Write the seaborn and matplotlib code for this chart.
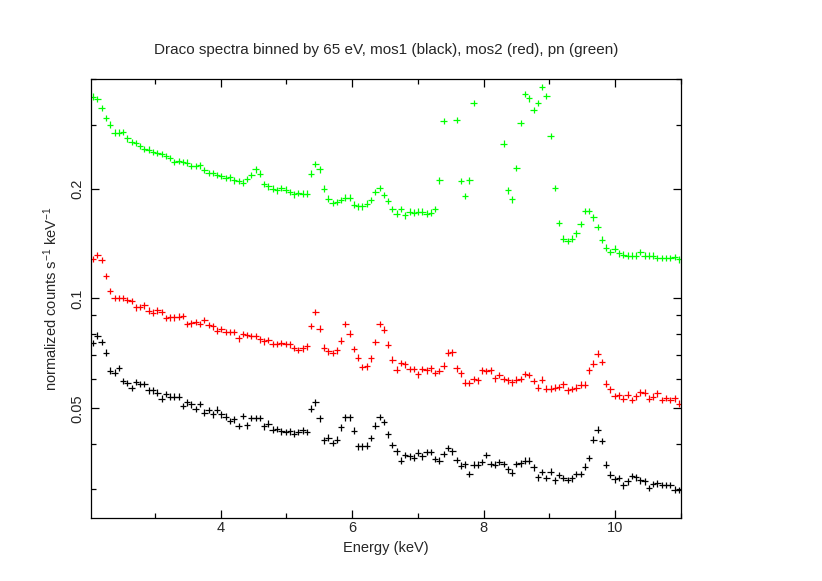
import numpy as np
import pandas as pd
import matplotlib
matplotlib.use("Agg")
import matplotlib.pyplot as plt
import seaborn as sns
from matplotlib.ticker import FixedLocator, NullFormatter, FixedFormatter

# 65 eV bins from 2.03 to 11.0 keV (bin centres)
energy = np.round(2.0625 + 0.065 * np.arange(138), 4)

# mos1 (black)
mos1 = [0.0755, 0.0791, 0.0760, 0.0711, 0.0634, 0.0626, 0.0645, 0.0594, 0.0586, 0.0568,
        0.0590, 0.0582, 0.0582, 0.0560, 0.0560, 0.0552, 0.0531, 0.0547, 0.0538, 0.0538,
        0.0538, 0.0507, 0.0519, 0.0512, 0.0497, 0.0513, 0.0486, 0.0495, 0.0481, 0.0496,
        0.0481, 0.0474, 0.0461, 0.0466, 0.0447, 0.0476, 0.0449, 0.0470, 0.0470, 0.0470,
        0.0446, 0.0454, 0.0437, 0.0438, 0.0432, 0.0430, 0.0432, 0.0426, 0.0431, 0.0435,
        0.0430, 0.0499, 0.0519, 0.0469, 0.0408, 0.0415, 0.0402, 0.0410, 0.0443, 0.0472,
        0.0472, 0.0434, 0.0393, 0.0393, 0.0395, 0.0414, 0.0448, 0.0473, 0.0459, 0.0424,
        0.0396, 0.0381, 0.0359, 0.0372, 0.0369, 0.0366, 0.0378, 0.0369, 0.0379, 0.0379,
        0.0363, 0.0359, 0.0375, 0.0389, 0.0381, 0.0361, 0.0348, 0.0351, 0.0330, 0.0350,
        0.0350, 0.0356, 0.0372, 0.0352, 0.0350, 0.0356, 0.0352, 0.0340, 0.0333, 0.0352,
        0.0353, 0.0359, 0.0359, 0.0344, 0.0323, 0.0334, 0.0322, 0.0335, 0.0317, 0.0328,
        0.0322, 0.0318, 0.0321, 0.0330, 0.0330, 0.0346, 0.0365, 0.0410, 0.0437, 0.0406,
        0.0350, 0.0329, 0.0319, 0.0322, 0.0307, 0.0315, 0.0326, 0.0323, 0.0317, 0.0315,
        0.0302, 0.0310, 0.0311, 0.0308, 0.0308, 0.0308, 0.0299, 0.0298]

# mos2 (red)
mos2 = [0.1282, 0.1315, 0.1274, 0.1154, 0.1049, 0.1004, 0.1002, 0.1004, 0.0991, 0.0983,
        0.0946, 0.0948, 0.0958, 0.0927, 0.0915, 0.0928, 0.0917, 0.0884, 0.0887, 0.0887,
        0.0892, 0.0894, 0.0852, 0.0855, 0.0861, 0.0852, 0.0873, 0.0846, 0.0839, 0.0817,
        0.0825, 0.0810, 0.0810, 0.0810, 0.0778, 0.0798, 0.0794, 0.0789, 0.0789, 0.0773,
        0.0763, 0.0770, 0.0750, 0.0750, 0.0755, 0.0750, 0.0749, 0.0732, 0.0722, 0.0730,
        0.0739, 0.0841, 0.0917, 0.0827, 0.0733, 0.0716, 0.0709, 0.0721, 0.0767, 0.0852,
        0.0801, 0.0727, 0.0688, 0.0649, 0.0651, 0.0685, 0.0760, 0.0852, 0.0822, 0.0747,
        0.0680, 0.0638, 0.0665, 0.0660, 0.0640, 0.0640, 0.0619, 0.0640, 0.0635, 0.0643,
        0.0624, 0.0632, 0.0654, 0.0711, 0.0712, 0.0643, 0.0623, 0.0588, 0.0586, 0.0601,
        0.0596, 0.0635, 0.0632, 0.0635, 0.0604, 0.0617, 0.0601, 0.0596, 0.0589, 0.0599,
        0.0601, 0.0621, 0.0617, 0.0593, 0.0570, 0.0599, 0.0566, 0.0566, 0.0570, 0.0572,
        0.0581, 0.0560, 0.0564, 0.0570, 0.0580, 0.0580, 0.0635, 0.0663, 0.0706, 0.0670,
        0.0584, 0.0563, 0.0540, 0.0542, 0.0531, 0.0545, 0.0526, 0.0539, 0.0553, 0.0552,
        0.0531, 0.0538, 0.0549, 0.0526, 0.0534, 0.0527, 0.0532, 0.0515]

# pn (green), None = off the top of the plot
pn = [0.358, 0.353, 0.333, 0.313, 0.300, 0.285, 0.285, 0.286, 0.275, 0.269,
      0.267, 0.262, 0.257, 0.256, 0.252, 0.251, 0.249, 0.246, 0.243, 0.237,
      0.238, 0.237, 0.236, 0.231, 0.231, 0.232, 0.225, 0.221, 0.221, 0.218,
      0.217, 0.214, 0.215, 0.211, 0.210, 0.208, 0.213, 0.218, 0.226, 0.220,
      0.206, 0.203, 0.200, 0.198, 0.201, 0.199, 0.196, 0.193, 0.195, 0.194,
      0.194, 0.220, 0.234, 0.226, 0.200, 0.188, 0.183, 0.184, 0.186, 0.189,
      0.189, 0.181, 0.179, 0.179, 0.182, 0.186, 0.196, 0.201, 0.192, 0.185,
      0.176, 0.171, 0.176, 0.169, 0.173, 0.172, 0.173, 0.173, 0.171, 0.172,
      0.176, 0.211, 0.307, None, None, 0.309, 0.210, 0.191, 0.211, 0.344,
      None, None, None, None, None, None,
      0.266, 0.198, 0.187, 0.228, 0.303, 0.364, 0.354, 0.329, 0.344, 0.380,
      0.359, 0.279, 0.201, 0.161, 0.146, 0.144, 0.146, 0.151, 0.160, 0.174,
      0.174, 0.167, 0.157, 0.145, 0.138, 0.134, 0.137, 0.133, 0.132, 0.131,
      0.131, 0.131, 0.134, 0.131, 0.131, 0.131, 0.129, 0.129, 0.129, 0.129,
      0.130, 0.128]

detectors = ["mos1", "mos2", "pn"]
colors = {"mos1": "black", "mos2": "#ff0000", "pn": "#00ff00"}

df = pd.concat([
    pd.DataFrame({"Energy": energy, "Counts": vals, "Det": det})
    for det, vals in zip(detectors, [mos1, mos2, pn])
])
df["Counts"] = pd.to_numeric(df["Counts"])
df = df.dropna()

sns.set_style("ticks")
plt.rcParams["font.family"] = ["Liberation Sans", "DejaVu Sans"]
plt.rcParams["mathtext.fontset"] = "custom"
plt.rcParams["mathtext.rm"] = "Liberation Sans"
plt.rcParams["mathtext.it"] = "Liberation Sans"

fig = plt.figure(figsize=(8.22, 5.81), dpi=100)
ax = fig.add_axes([91 / 822, 1 - 518 / 581, 590 / 822, 439 / 581])

sns.scatterplot(data=df, x="Energy", y="Counts", hue="Det", palette=colors,
                marker="+", s=22, linewidth=0.9, legend=False, ax=ax)

ax.set_yscale("log")
ax.set_xlim(2.03, 11.0)
ax.set_ylim(0.025, 0.4)

ax.xaxis.set_major_locator(FixedLocator([4, 6, 8, 10]))
ax.xaxis.set_minor_locator(FixedLocator([2, 3, 5, 7, 9, 11]))
ax.yaxis.set_major_locator(FixedLocator([0.05, 0.1, 0.2]))
ax.yaxis.set_major_formatter(FixedFormatter(["0.05", "0.1", "0.2"]))
ax.yaxis.set_minor_locator(FixedLocator([0.03, 0.04, 0.06, 0.07, 0.08, 0.09, 0.3, 0.4]))
ax.yaxis.set_minor_formatter(NullFormatter())

ax.tick_params(which="both", direction="in", top=True, right=True, width=0.9,
               color="black", labelsize=10.5)
ax.tick_params(which="major", length=6)
ax.tick_params(which="minor", length=3.5)
ax.tick_params(axis="x", pad=2.5)
ax.tick_params(axis="y", pad=4.5, labelrotation=90)
for lab in ax.get_yticklabels():
    lab.set_va("center")

for sp in ax.spines.values():
    sp.set_linewidth(0.9)
    sp.set_color("black")

ax.set_xlabel("Energy (keV)", fontsize=10.5, labelpad=4)
ax.set_ylabel(r"normalized counts s$^{-1}$ keV$^{-1}$", fontsize=10.5, labelpad=8)
ax.set_title("Draco spectra binned by 65 eV, mos1 (black), mos2 (red), pn (green)",
             fontsize=11, pad=18)

plt.savefig("out.png", dpi=100)
